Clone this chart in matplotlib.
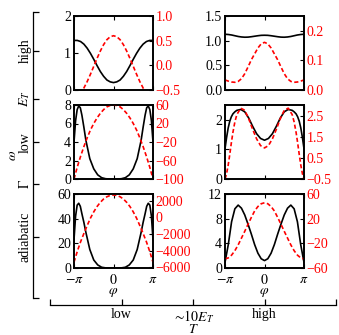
import numpy as np
import matplotlib
matplotlib.use("Agg")
import matplotlib.pyplot as plt

plt.rcParams['font.family'] = ['Liberation Serif', 'DejaVu Serif']
plt.rcParams['mathtext.fontset'] = 'stix'
plt.rcParams['font.size'] = 10

# phase grids (in units of pi)
phi_even = [-1.0, -11/12, -10/12, -9/12, -8/12, -7/12, -6/12, -5/12, -4/12,
            -3/12, -2/12, -1/12, 0.0, 1/12, 2/12, 3/12, 4/12, 5/12, 6/12,
            7/12, 8/12, 9/12, 10/12, 11/12, 1.0]
phi_edge = [-1.0, -0.96, -0.92, -0.88, -0.84, -0.80, -0.75, -0.70, -0.60,
            -0.50, -0.40, -0.30, -0.20, -0.10, 0.0, 0.10, 0.20, 0.30, 0.40,
            0.50, 0.60, 0.70, 0.75, 0.80, 0.84, 0.88, 0.92, 0.96, 1.0]

# high E_T, low T
hi_lo_black = [1.34, 1.34, 1.31, 1.24, 1.13, 0.99, 0.83, 0.66, 0.50, 0.37,
               0.27, 0.22, 0.20, 0.22, 0.27, 0.37, 0.50, 0.66, 0.83, 0.99,
               1.13, 1.24, 1.31, 1.34, 1.34]
hi_lo_red = [-0.64, -0.62, -0.56, -0.46, -0.33, -0.18, -0.02, 0.14, 0.29,
             0.42, 0.52, 0.58, 0.60, 0.58, 0.52, 0.42, 0.29, 0.14, -0.02,
             -0.18, -0.33, -0.46, -0.56, -0.62, -0.64]

# high E_T, high T
hi_hi_black = [1.13, 1.125, 1.115, 1.10, 1.085, 1.075, 1.07, 1.072, 1.08,
               1.09, 1.10, 1.108, 1.11, 1.108, 1.10, 1.09, 1.08, 1.072, 1.07,
               1.075, 1.085, 1.10, 1.115, 1.125, 1.13]
hi_hi_red = [0.034, 0.030, 0.027, 0.026, 0.029, 0.038, 0.055, 0.078, 0.102,
             0.122, 0.142, 0.156, 0.161, 0.156, 0.142, 0.122, 0.102, 0.078,
             0.055, 0.038, 0.029, 0.026, 0.027, 0.030, 0.034]

# low E_T, low T
lo_lo_black = [4.0, 6.3, 7.5, 7.9, 7.7, 6.9, 5.6, 4.2, 2.2, 1.1, 0.45, 0.14,
               0.03, 0.0, 0.0, 0.0, 0.03, 0.14, 0.45, 1.1, 2.2, 4.2, 5.6, 6.9,
               7.7, 7.9, 7.5, 6.3, 4.0]
lo_lo_red = [-100, -74, -51, -30, -11, 6, 20, 32, 42, 50, 56, 59, 60, 59, 56,
             50, 42, 32, 20, 6, -11, -30, -51, -74, -100]

# low E_T, high T
lo_hi_black = [1.02, 1.40, 1.72, 1.95, 2.10, 2.20, 2.27, 2.32, 2.35, 2.27,
               2.06, 1.78, 1.53, 1.37, 1.31, 1.37, 1.53, 1.78, 2.06, 2.27,
               2.35, 2.32, 2.27, 2.20, 2.10, 1.95, 1.72, 1.40, 1.02]
lo_hi_red = [-0.5, -0.25, 0.15, 0.65, 1.2, 1.7, 2.2, 2.55, 2.85, 2.75, 2.35,
             1.85, 1.4, 1.08, 0.97, 1.08, 1.4, 1.85, 2.35, 2.75, 2.85, 2.55,
             2.2, 1.7, 1.2, 0.65, 0.15, -0.25, -0.5]

# adiabatic, low T
ad_lo_black = [23, 42, 51, 52.5, 50, 44, 37, 29, 15, 6.5, 2.5, 0.6, 0.1, 0,
               0, 0, 0.1, 0.6, 2.5, 6.5, 15, 29, 37, 44, 50, 52.5, 51, 42, 23]
ad_lo_red = [-5400, -4100, -2950, -1950, -1000, -100, 650, 1290, 1800, 2200,
             2470, 2630, 2680, 2630, 2470, 2200, 1800, 1290, 650, -100, -1000,
             -1950, -2950, -4100, -5400]

# adiabatic, high T
ad_hi_black = [0.9, 3.8, 7.5, 9.6, 10.2, 9.7, 8.6, 7.1, 5.5, 3.8, 2.4, 1.5,
               1.2, 1.5, 2.4, 3.8, 5.5, 7.1, 8.6, 9.7, 10.2, 9.6, 7.5, 3.8, 0.9]
ad_hi_red = [-45.2, -43.6, -39.1, -31.9, -22.5, -11.5, -0.5, 11, 22, 32.5,
             39.7, 44.2, 45.8, 44.2, 39.7, 32.5, 22, 11, -0.5, -11.5, -22.5,
             -31.9, -39.1, -43.6, -45.2]

row_labels = ['high', r'$E_T$', 'low', r'$\Gamma$', 'adiabatic']
col_labels = ['', 'low', r'$\sim\!10E_T$', 'high', '']

fig = plt.figure(figsize=(3.39, 3.35), dpi=100)
W, H = 339.0, 335.0


def panel(px, py, xb, black, xr, red, ylim, yticks, rlim, rticks, rfmt,
          bottom_row=False):
    # px, py: left/top pixel of the panel box
    ax = fig.add_axes([px / W, 1 - (py + 74) / H, 79 / W, 74 / H])
    ax.plot(np.array(xb) * np.pi, black, color='black', lw=1.2)
    ax.set_xlim(-np.pi, np.pi)
    ax.set_ylim(ylim)
    ax.set_yticks(yticks)
    ax.set_xticks([-np.pi, 0, np.pi])
    ax.tick_params(direction='in', length=3, width=0.8, top=True,
                   right=False, pad=2)
    ax.tick_params(axis='x', pad=3.5)
    if bottom_row:
        ax.set_xticklabels([r'$-\pi$', r'$0$', r'$\pi$'])
        ax.set_xlabel(r'$\varphi$', labelpad=-0.5)
    else:
        ax.set_xticklabels([])
    for s in ax.spines.values():
        s.set_linewidth(1.2)

    ax2 = ax.twinx()
    ax2.plot(np.array(xr) * np.pi, red, color='red', lw=1.2,
             linestyle=(0, (2.5, 1.5)))
    ax2.set_ylim(rlim)
    ax2.set_yticks(rticks)
    ax2.set_yticklabels([rfmt.format(t).replace('-', '\u2212')
                         for t in rticks])
    ax2.tick_params(direction='in', length=3, width=0.8, labelcolor='red',
                    pad=2)
    for s in ax2.spines.values():
        s.set_linewidth(1.2)
    return ax, ax2


# outer axes carrying the category labels
outer = fig.add_axes([50 / W, 1 - 298 / H, 286 / W, 286 / H])
outer.patch.set_visible(False)
outer.spines['top'].set_visible(False)
outer.spines['right'].set_visible(False)
outer.spines['left'].set_position(('outward', 12))
outer.spines['bottom'].set_position(('outward', 5))
outer.spines['left'].set_linewidth(0.9)
outer.spines['bottom'].set_linewidth(0.9)
outer.set_xlim(0, 4)
outer.set_ylim(0, 1)
outer.set_xticks([0, 1, 2, 3, 4])
outer.set_xticklabels(col_labels)
outer.set_yticks([0, 0.864, 0.696, 0.545, 0.399, 0.213, 1])
outer.set_yticklabels([''] + row_labels + [''])
outer.tick_params(direction='in', length=4, width=0.9)
outer.tick_params(axis='y', pad=1)
outer.tick_params(axis='x', pad=2)
plt.setp(outer.get_yticklabels(), rotation=90, va='center')
outer.set_ylabel(r'$\omega$', labelpad=-1)
outer.set_xlabel(r'$T$', labelpad=-1)

panel(74, 16, phi_even, hi_lo_black, phi_even, hi_lo_red, (0, 2), [0, 1, 2],
      (-0.5, 1.0), [-0.5, 0.0, 0.5, 1.0], '{:.1f}')
panel(225, 16, phi_even, hi_hi_black, phi_even, hi_hi_red, (0, 1.5),
      [0.0, 0.5, 1.0, 1.5], (0, 0.25), [0.0, 0.1, 0.2], '{:.1f}')
panel(74, 105, phi_edge, lo_lo_black, phi_even, lo_lo_red, (0, 8),
      [0, 2, 4, 6, 8], (-100, 60), [-100, -60, -20, 20, 60], '{:d}')
panel(225, 105, phi_edge, lo_hi_black, phi_edge, lo_hi_red, (0, 2.5),
      [0, 1, 2], (-0.5, 3.0), [-0.5, 0.5, 1.5, 2.5], '{:.1f}')
panel(74, 194, phi_edge, ad_lo_black, phi_even, ad_lo_red, (0, 60),
      [0, 20, 40, 60], (-6100, 2800), [-6000, -4000, -2000, 0, 2000],
      '{:d}', bottom_row=True)
panel(225, 194, phi_even, ad_hi_black, phi_even, ad_hi_red, (0, 12),
      [0, 4, 8, 12], (-60, 60), [-60, -20, 20, 60], '{:d}', bottom_row=True)

fig.savefig('out.png', dpi=100)
